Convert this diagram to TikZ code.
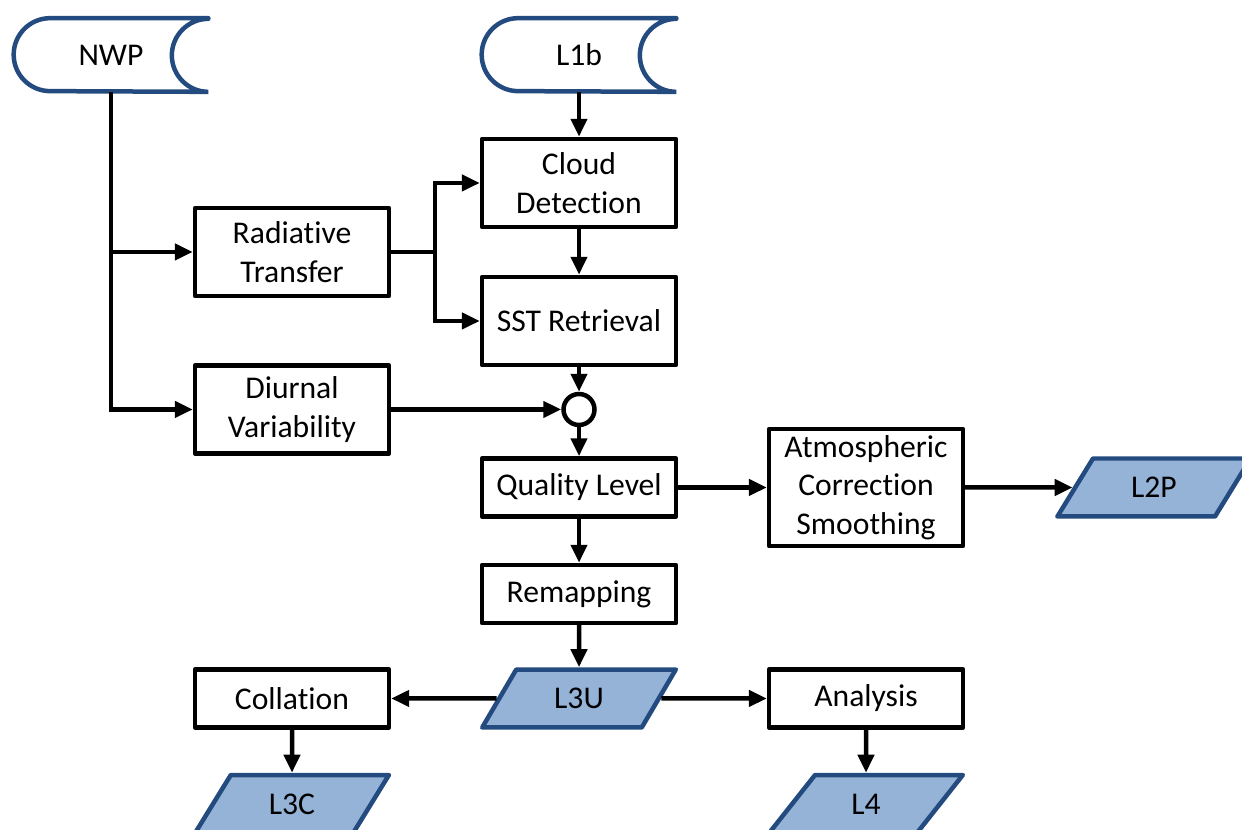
\documentclass[tikz,border=0pt]{standalone}
\usepackage{fontspec}
\setmainfont[Ligatures=NoCommon]{Carlito}
\usetikzlibrary{arrows.meta,shapes.geometric}
\definecolor{darkblue}{RGB}{36,75,128}
\definecolor{lightblue}{RGB}{149,179,215}
\tikzset{
  txt/.style={font=\fontsize{18}{21.8}\selectfont, align=center, inner sep=0pt},
  proc/.style={txt, draw, line width=0.09cm, line join=round, minimum width=3.88cm, minimum height=1.76cm},
  procflat/.style={proc, minimum height=1.16cm},
  dataout/.style={txt, trapezium, trapezium left angle=57, trapezium right angle=123, trapezium stretches=true,
    draw=darkblue, fill=lightblue, line width=0.09cm, line join=round, minimum width=3.88cm, minimum height=1.16cm},
  store/.style={txt, minimum width=3.88cm, minimum height=1.46cm},
  storeline/.style={draw=darkblue, line width=0.09cm, line cap=round},
  link/.style={line width=0.09cm},
  flow/.style={link, -{Triangle[length=0.36cm,width=0.32cm]}},
}
\begin{document}
\begin{tikzpicture}[x=0.02cm, y=-0.02cm]
            \useasboundingbox (0,0) rectangle (1242,830);
            % inputs
            \node[store] (nwp) at (111,55) {NWP};
            \node[store] (lb) at (579,55) {L1b};
            \foreach \s in {nwp,lb}
                \draw[storeline] (\s.north east) -- ([xshift=0.73cm]\s.north west) arc[start angle=90,end angle=270,radius=0.73cm]
                    -- (\s.south east) arc[start angle=-90,end angle=-270,radius=0.73cm];
            % processing
            \node[proc] (rad) at (292,252) {Radiative\\Transfer};
            \node[proc] (diu) at (292,409.5) {Diurnal\\Variability};
            \node[proc] (cloud) at (579,183) {Cloud\\Detection};
            \node[proc] (sst) at (579,321) {SST Retrieval};
            \node[circle, draw, line width=0.09cm, minimum size=0.62cm, inner sep=0pt] (join) at (579,409.5) {};
            \node[procflat] (ql) at (579,487.5) {Quality Level};
            \node[proc, minimum height=2.34cm] (atm) at (866,487.5) {Atmospheric\\Correction\\Smoothing};
            \node[procflat] (remap) at (579,594) {Remapping};
            \node[procflat] (col) at (292,698.5) {Collation};
            \node[procflat] (ana) at (866,698.5) {Analysis};
            % products
            \node[dataout] (ltwop) at (1154,487.5) {L2P};
            \node[dataout] (lthreeu) at (579,698.5) {L3U};
            \node[dataout] (lthreec) at (292,804) {L3C};
            \node[dataout] (lfour) at (866,804) {L4};
            % connectors
            \draw[flow] (nwp.south) |- (diu.west);
            \draw[flow] (nwp.south |- rad.west) -- (rad.west);
            \draw[flow] (rad.east) -- ++(44,0) |- (cloud.west);
            \draw[flow] (rad.east) -- ++(44,0) |- (sst.west);
            \draw[flow] (lb) -- (cloud);
            \draw[flow] (cloud) -- (sst);
            \draw[flow] (sst) -- (join);
            \draw[flow] (diu) -- (join);
            \draw[flow] (join) -- (ql);
            \draw[flow] (ql) -- (atm);
            \draw[flow] (atm) -- (ltwop);
            \draw[flow] (ql) -- (remap);
            \draw[flow] (remap) -- (lthreeu);
            \draw[flow] (lthreeu) -- (col);
            \draw[flow] (lthreeu) -- (ana);
            \draw[flow] (col) -- (lthreec);
            \draw[flow] (ana) -- (lfour);
        \end{tikzpicture}
\end{document}
